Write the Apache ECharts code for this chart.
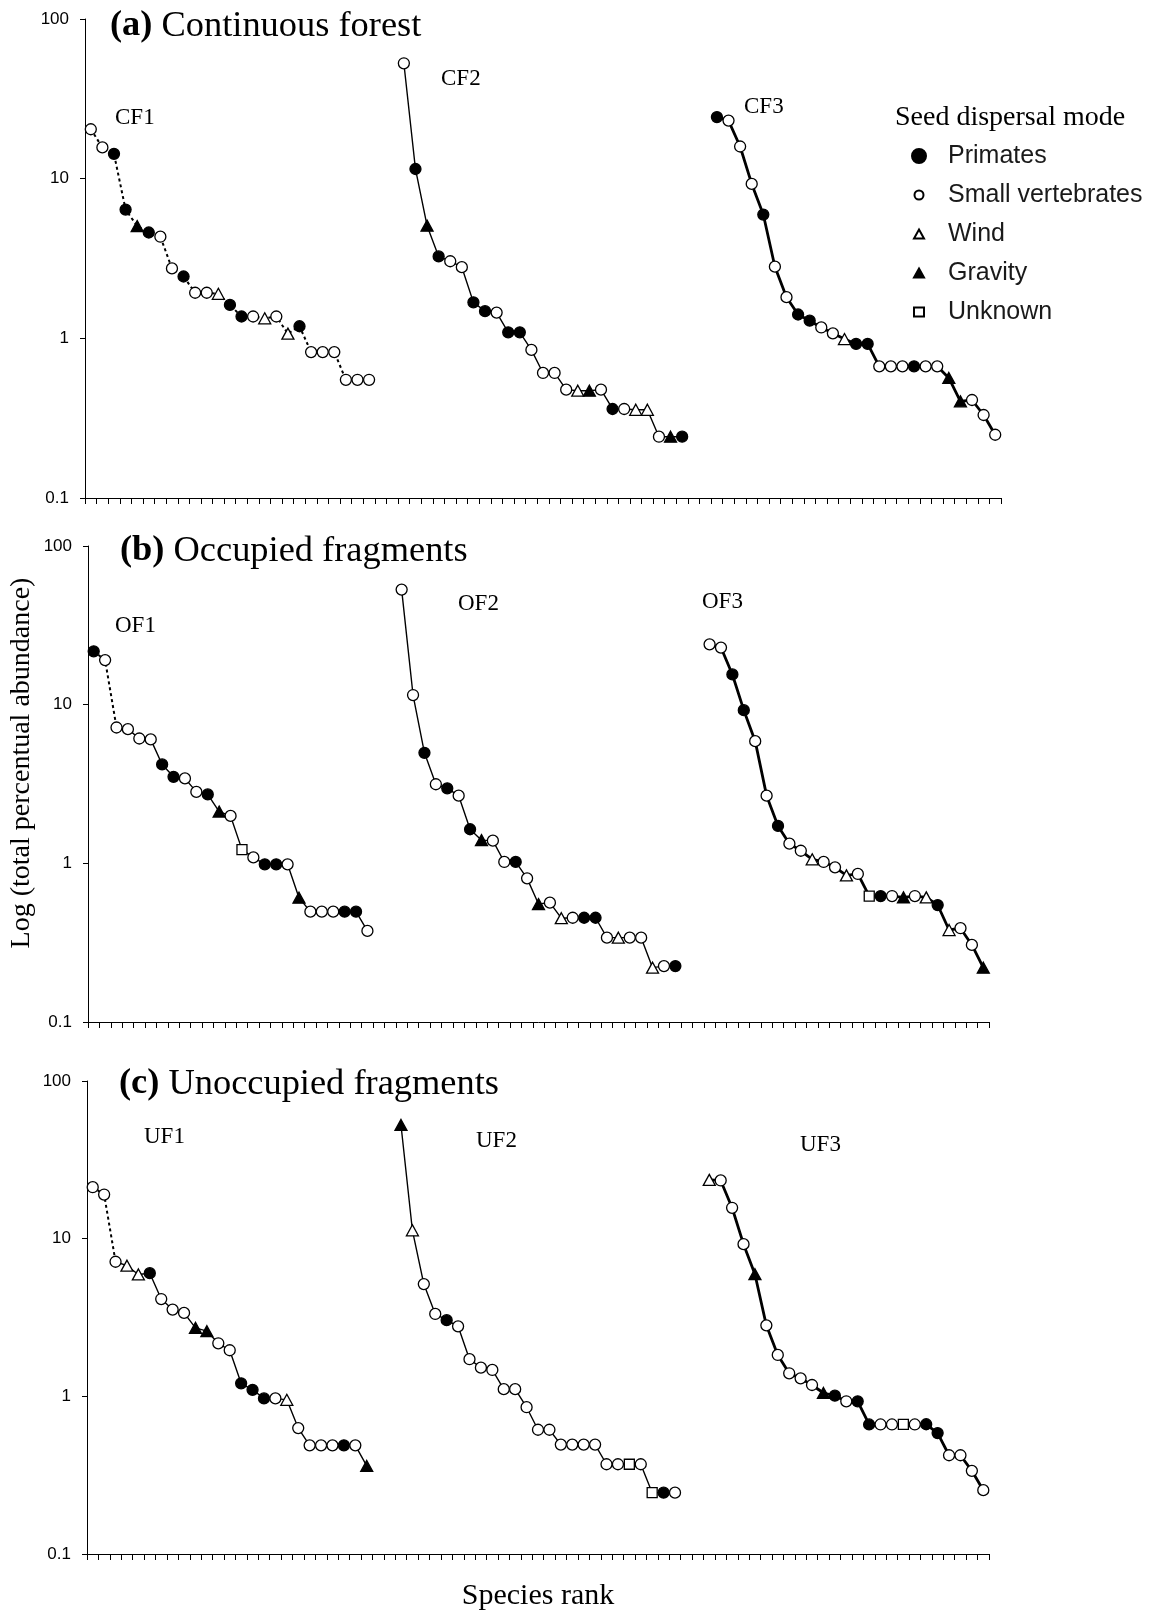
<!DOCTYPE html>
<html>
<head>
<meta charset="utf-8">
<script src="https://cdn.jsdelivr.net/npm/echarts@6/dist/echarts.min.js"></script>
<style>
  html, body { margin: 0; padding: 0; background: #fff; }
  #chart { width: 1151px; height: 1612px; }
</style>
</head>
<body>
<div id="chart"></div>
<script>
// Rank-abundance curves of seed dispersal modes, three sites per habitat type.
// Mode codes: P primates, S small vertebrates, W wind, G gravity, U unknown.

const RANK_COUNT = 79;              // species-rank slots on the shared x axis
const CURVE_START = [0, 27, 54];    // first rank slot of each site's curve

// (a) Continuous forest
const CF1_values = [20.4, 15.7, 14.3, 6.4, 5.05, 4.6, 4.33, 2.74, 2.44, 1.93, 1.93, 1.9, 1.62, 1.37, 1.37, 1.335, 1.37, 1.07, 1.19, 0.82, 0.82, 0.82, 0.55, 0.55, 0.55];
const CF1_modes  = ['S','S','P','P','G','P','S','S','P','S','S','W','P','P','S','W','S','W','P','S','S','S','S','S','S'];
const CF2_values = [52.8, 11.5, 5.08, 3.26, 3.04, 2.79, 1.68, 1.48, 1.45, 1.09, 1.09, 0.846, 0.607, 0.607, 0.477, 0.47, 0.47, 0.477, 0.361, 0.361, 0.357, 0.357, 0.242, 0.242, 0.242];
const CF2_modes  = ['S','P','G','P','S','S','P','P','S','P','P','S','S','S','S','W','G','S','P','S','W','W','S','G','P'];
const CF3_values = [24.3, 23.1, 15.9, 9.27, 5.96, 2.81, 1.81, 1.41, 1.29, 1.17, 1.075, 0.99, 0.922, 0.922, 0.668, 0.668, 0.668, 0.668, 0.668, 0.668, 0.565, 0.403, 0.411, 0.331, 0.249];
const CF3_modes  = ['P','S','S','S','P','S','S','P','P','S','S','W','P','P','S','S','S','P','S','S','G','G','S','S','S'];

// (b) Occupied fragments
const OF1_values = [21.7, 19.1, 7.18, 7.01, 6.12, 6.04, 4.2, 3.51, 3.43, 2.82, 2.72, 2.12, 1.99, 1.22, 1.09, 0.986, 0.986, 0.986, 0.607, 0.496, 0.496, 0.496, 0.496, 0.496, 0.375];
const OF1_modes  = ['P','S','S','S','S','S','P','P','S','S','P','G','S','U','S','P','P','S','G','S','S','S','P','P','S'];
const OF2_values = [53.1, 11.5, 4.97, 3.15, 2.97, 2.67, 1.64, 1.4, 1.39, 1.02, 1.02, 0.804, 0.554, 0.565, 0.451, 0.454, 0.454, 0.454, 0.34, 0.34, 0.34, 0.34, 0.22, 0.225, 0.225];
const OF2_modes  = ['S','S','P','S','P','S','P','G','S','S','P','S','G','S','W','S','P','P','S','W','S','S','W','S','P'];
const OF3_values = [24.0, 22.9, 15.5, 9.23, 5.89, 2.67, 1.72, 1.33, 1.2, 1.06, 1.02, 0.944, 0.84, 0.857, 0.622, 0.622, 0.622, 0.61, 0.622, 0.61, 0.546, 0.38, 0.39, 0.306, 0.22];
const OF3_modes  = ['S','S','P','P','S','S','P','S','S','W','S','S','W','S','U','P','S','G','S','W','P','W','S','S','G'];

// (c) Unoccupied fragments
const UF1_values = [21.2, 19.05, 7.14, 6.74, 5.93, 6.04, 4.14, 3.55, 3.38, 2.72, 2.59, 2.17, 1.96, 1.21, 1.1, 0.97, 0.97, 0.95, 0.629, 0.489, 0.489, 0.489, 0.489, 0.489, 0.362];
const UF1_modes  = ['S','S','S','W','W','P','S','S','S','G','G','S','S','P','P','P','S','W','S','S','S','S','P','S','G'];
const UF2_values = [52.6, 11.3, 5.15, 3.33, 3.04, 2.78, 1.72, 1.52, 1.47, 1.11, 1.11, 0.853, 0.614, 0.614, 0.494, 0.494, 0.494, 0.494, 0.371, 0.371, 0.371, 0.371, 0.245, 0.245, 0.245];
const UF2_modes  = ['G','W','S','S','P','S','S','S','S','S','S','S','S','S','S','S','S','S','S','S','U','S','U','P','S'];
const UF3_values = [23.6, 23.4, 15.7, 9.23, 5.95, 2.82, 1.83, 1.4, 1.3, 1.18, 1.05, 1.01, 0.93, 0.93, 0.663, 0.663, 0.663, 0.663, 0.663, 0.665, 0.585, 0.423, 0.423, 0.337, 0.254];
const UF3_modes  = ['W','S','S','S','G','S','S','S','S','S','G','P','S','P','P','S','S','U','S','P','P','S','S','S','S'];

const Y_TICKS = ['0.1', '1', '10', '100'];
const MODE_CODES = ['P', 'S', 'W', 'G', 'U'];
const MODE_LABELS = ['Primates', 'Small vertebrates', 'Wind', 'Gravity', 'Unknown'];
const PANEL_TAGS = ['(a)', '(b)', '(c)'];
const PANEL_NAMES = ['Continuous forest', 'Occupied fragments', 'Unoccupied fragments'];
const SITE_NAMES = [['CF1', 'CF2', 'CF3'], ['OF1', 'OF2', 'OF3'], ['UF1', 'UF2', 'UF3']];

const PANELS = [
  [{ values: CF1_values, modes: CF1_modes, dottedThrough: 24 },
   { values: CF2_values, modes: CF2_modes, dottedThrough: 0 },
   { values: CF3_values, modes: CF3_modes, dottedThrough: 0 }],
  [{ values: OF1_values, modes: OF1_modes, dottedThrough: 2 },
   { values: OF2_values, modes: OF2_modes, dottedThrough: 0 },
   { values: OF3_values, modes: OF3_modes, dottedThrough: 0 }],
  [{ values: UF1_values, modes: UF1_modes, dottedThrough: 2 },
   { values: UF2_values, modes: UF2_modes, dottedThrough: 0 },
   { values: UF3_values, modes: UF3_modes, dottedThrough: 0 }]
];

// ---- layout & styling ----
const SERIF = '"Liberation Serif", "Times New Roman", Times, serif';
const SANS = '"Liberation Sans", Arial, Helvetica, sans-serif';

const GRIDS = [
  { left: 85, top: 19, width: 916, height: 479 },
  { left: 88, top: 546, width: 901, height: 476 },
  { left: 87, top: 1081, width: 902, height: 476 }
];
const TITLE_POS = [[110, 26], [120, 551], [119, 1084]];
const SITE_POS = [
  [[115, 118], [441, 79], [744, 107]],
  [[115, 626], [458, 604], [702, 602]],
  [[144, 1137], [476, 1141], [800, 1145]]
];
const CURVE_WIDTH = [1.4, 1.4, 2.8];

const MARKERS = {
  P: { symbol: 'circle', size: 11, fill: '#000' },
  S: { symbol: 'circle', size: 11, fill: '#fff' },
  W: { symbol: 'triangle', size: [12, 11], fill: '#fff' },
  G: { symbol: 'triangle', size: [12, 11], fill: '#000' },
  U: { symbol: 'rect', size: 10, fill: '#fff' }
};

const RANKS = [];
for (let i = 1; i <= RANK_COUNT; i++) RANKS.push(String(i));

const grid = GRIDS.map(g => Object.assign({ containLabel: false }, g));
const xAxis = [];
const yAxis = [];
const series = [];
const graphic = [];

GRIDS.forEach((g, p) => {
  xAxis.push({
    type: 'category', gridIndex: p, data: RANKS, boundaryGap: true,
    axisLine: { show: true, onZero: false, lineStyle: { color: '#000', width: 1 } },
    axisTick: { show: true, interval: 0, length: 6, lineStyle: { color: '#000', width: 1 } },
    axisLabel: { show: false },
    splitLine: { show: false },
    name: p === 2 ? 'Species rank' : '',
    nameLocation: 'middle', nameGap: 27,
    nameTextStyle: { fontFamily: SERIF, fontSize: 30, color: '#000' }
  });
  yAxis.push({
    type: 'log', logBase: 10, gridIndex: p, min: 0.1, max: 100,
    axisLine: { show: true, lineStyle: { color: '#000', width: 1 } },
    axisTick: { show: true, length: 5, lineStyle: { color: '#000', width: 1 } },
    minorTick: { show: false },
    splitLine: { show: false },
    axisLabel: {
      margin: 16, fontFamily: SANS, fontSize: 17, color: '#000',
      formatter: v => Y_TICKS.find(t => Math.abs(parseFloat(t) - v) < 1e-6 * v) || String(v)
    }
  });

  // connecting lines of each site's curve
  PANELS[p].forEach((curve, c) => {
    const pts = curve.values.map((v, i) => [CURVE_START[c] + i, v]);
    const d = curve.dottedThrough;
    if (d > 0) {
      series.push({
        type: 'line', xAxisIndex: p, yAxisIndex: p, symbol: 'none', silent: true, z: 2,
        data: pts.slice(0, d + 1),
        lineStyle: { color: '#000', width: 2, type: [3, 3] }
      });
    }
    if (d < pts.length - 1) {
      series.push({
        type: 'line', xAxisIndex: p, yAxisIndex: p, symbol: 'none', silent: true, z: 2,
        data: pts.slice(d),
        lineStyle: { color: '#000', width: CURVE_WIDTH[c], type: 'solid' }
      });
    }
  });

  // species markers by seed dispersal mode
  MODE_CODES.forEach((m, k) => {
    const data = [];
    PANELS[p].forEach((curve, c) => {
      curve.modes.forEach((mm, i) => {
        if (mm === m) data.push([CURVE_START[c] + i, curve.values[i]]);
      });
    });
    const mk = MARKERS[m];
    series.push({
      type: 'scatter', name: MODE_LABELS[k], xAxisIndex: p, yAxisIndex: p, z: 3, silent: true,
      symbol: mk.symbol, symbolSize: mk.size, data,
      itemStyle: { color: mk.fill, borderColor: '#000', borderWidth: 1.3, opacity: 1 }
    });
  });

  // panel heading
  graphic.push({
    type: 'text', x: TITLE_POS[p][0], y: TITLE_POS[p][1], silent: true,
    style: {
      text: '{b|' + PANEL_TAGS[p] + '} ' + PANEL_NAMES[p],
      fontFamily: SERIF, fontSize: 36.4, fill: '#000',
      textAlign: 'left', textVerticalAlign: 'middle',
      rich: { b: { fontFamily: SERIF, fontSize: 36.4, fontWeight: 'bold', fill: '#000' } }
    }
  });
  // site labels
  SITE_NAMES[p].forEach((s, c) => {
    graphic.push({
      type: 'text', x: SITE_POS[p][c][0], y: SITE_POS[p][c][1], silent: true,
      style: { text: s, fontFamily: SERIF, fontSize: 23, fill: '#000', textAlign: 'left', textVerticalAlign: 'middle' }
    });
  });
});

// legend heading and y-axis title
graphic.push({
  type: 'text', x: 895, y: 118, silent: true,
  style: { text: 'Seed dispersal mode', fontFamily: SERIF, fontSize: 28, fill: '#000', textAlign: 'left', textVerticalAlign: 'middle' }
});
graphic.push({
  type: 'text', x: 22, y: 763, rotation: Math.PI / 2, silent: true,
  style: { text: 'Log (total percentual abundance)', fontFamily: SERIF, fontSize: 28, fill: '#000', textAlign: 'center', textVerticalAlign: 'middle' }
});

const legendText = (padLeft) => ({
  fontFamily: SANS, fontSize: 25, color: '#1a1a1a', lineHeight: 26, padding: [0, 0, 0, padLeft]
});
const legend = [
  {
    data: [MODE_LABELS[0]], orient: 'vertical', left: 911, top: 143,
    itemWidth: 14, itemHeight: 14, itemGap: 13, selectedMode: false,
    textStyle: legendText(17), padding: 0
  },
  {
    data: MODE_LABELS.slice(1), orient: 'vertical', left: 913, top: 182,
    itemWidth: 10, itemHeight: 9, itemGap: 13, selectedMode: false,
    textStyle: legendText(19), padding: 0
  }
];

const chart = echarts.init(document.getElementById('chart'), null, { renderer: 'canvas' });
chart.setOption({
  animation: false,
  backgroundColor: '#fff',
  grid, xAxis, yAxis, series, legend, graphic
});
</script>
</body>
</html>
